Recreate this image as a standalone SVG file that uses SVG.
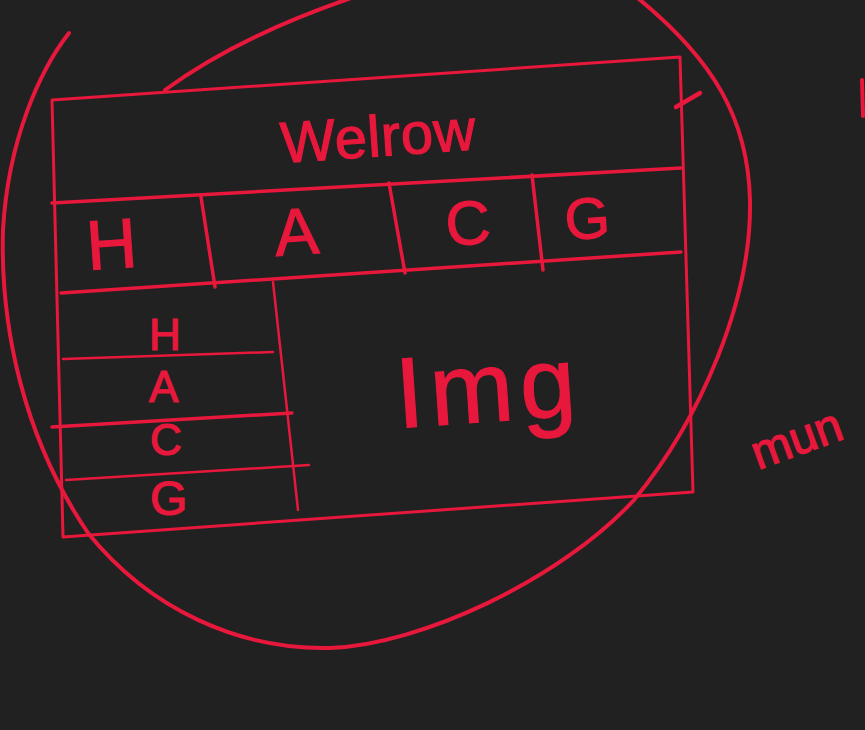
<svg xmlns="http://www.w3.org/2000/svg" width="865" height="730" viewBox="0 0 865 730">
<style>
.ln{fill:none;stroke:#e8183c;stroke-linecap:round;stroke-linejoin:round}
.t{fill:#e8183c;stroke:#e8183c;stroke-width:1.2;font-family:"Liberation Sans","DejaVu Sans",sans-serif;font-weight:normal}
</style>
<rect width="865" height="730" fill="#212121"/>
<g id="connectors">
<path class="ln" stroke-width="4" d="M69,33 C40,70 8,140 3,230 C0,330 25,440 88,533 C150,610 240,650 330,648 C420,645 560,580 634,500 C700,420 752,300 750,200 C748,120 715,60 634,-5"/>
<path class="ln" stroke-width="4" d="M165,90 Q240,35 360,-5"/>
<path class="ln" stroke-width="4.5" d="M676,107 L700,93"/>
<path class="ln" stroke-width="4" d="M862,80 L863,116"/>
</g>
<g id="frame">
<path class="ln" stroke-width="3" d="M52,100 L680,57 L693,492 L63,537 Z"/>
<path class="ln" stroke-width="3.5" d="M52,203 L681,168"/>
<path class="ln" stroke-width="3.5" d="M61,293 L681,252"/>
</g>
<g id="title">
<text class="t" x="282" y="163" font-size="58" textLength="195" transform="rotate(-4 282 163)">Welrow</text>
</g>
<g id="tabs">
<path class="ln" stroke-width="3.5" d="M201,197 L215,287"/>
<path class="ln" stroke-width="3.5" d="M389,183 L405,273"/>
<path class="ln" stroke-width="3.5" d="M532,175 L543,270"/>
<text class="t" x="88" y="270" font-size="70" transform="rotate(-4 88 270)">H</text>
<text class="t" x="276" y="256" font-size="66" transform="rotate(-4 276 256)">A</text>
<text class="t" x="447" y="246" font-size="62" transform="rotate(-4 447 246)">C</text>
<text class="t" x="566" y="240" font-size="58" transform="rotate(-4 566 240)">G</text>
</g>
<g id="sidebar">
<path class="ln" stroke-width="2.5" d="M273,282 L298,510"/>
<path class="ln" stroke-width="2.5" d="M63,359 L273,352"/>
<path class="ln" stroke-width="3.5" d="M52,427 L292,413"/>
<path class="ln" stroke-width="2.5" d="M66,480 L309,465"/>
<text class="t" x="149" y="350" font-size="44">H</text>
<text class="t" x="149" y="402" font-size="44">A</text>
<text class="t" x="150" y="455" font-size="44">C</text>
<text class="t" x="150" y="515" font-size="48">G</text>
</g>
<g id="content">
<text class="t" x="398" y="428" font-size="100" textLength="180" transform="rotate(-4 398 428)">Img</text>
</g>
<g id="note">
<text class="t" x="758" y="470" font-size="48" transform="rotate(-20 758 470)">mun</text>
</g>
</svg>
